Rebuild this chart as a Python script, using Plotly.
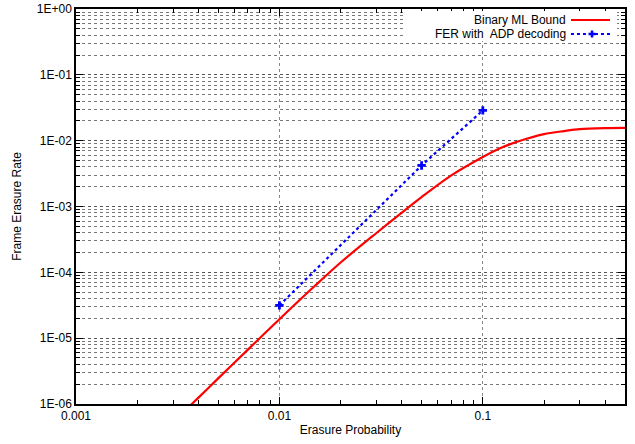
import plotly.graph_objects as go

# Binary ML bound
ml_p = [0.003, 0.004, 0.005, 0.007, 0.01, 0.015, 0.02, 0.03, 0.04, 0.05, 0.07,
        0.1, 0.12, 0.15, 0.2, 0.25, 0.3, 0.4, 0.5]
ml_fer = [5.3e-7, 1.25e-6, 2.45e-6, 6.7e-6, 1.94e-5, 6.3e-5, 1.41e-4, 3.96e-4,
          8.1e-4, 1.39e-3, 2.97e-3, 5.65e-3, 7.55e-3, 9.8e-3, 1.26e-2, 1.40e-2,
          1.50e-2, 1.55e-2, 1.56e-2]

# FER with ADP decoding
adp_p = [0.01, 0.05, 0.1]
adp_fer = [3.15e-5, 4.2e-3, 2.88e-2]

x_ticks = [0.001, 0.01, 0.1]
x_ticktext = ["0.001", "0.01", "0.1"]
y_exps = [0, -1, -2, -3, -4, -5, -6]
y_ticktext = ["1E+00", "1E-01", "1E-02", "1E-03", "1E-04", "1E-05", "1E-06"]

y_ticks = [10.0 ** e for e in y_exps]
x_minor = [k * 10.0 ** e for e in (-3, -2, -1) for k in range(2, 10)]
y_minor = [k * 10.0 ** e for e in range(-6, 0) for k in range(2, 10)]

FONT = "Liberation Sans, Arial, Helvetica, sans-serif"

fig = go.Figure()
fig.add_trace(go.Scatter(x=ml_p, y=ml_fer, mode="lines", name="Binary ML Bound",
                         line=dict(color="#ff0000", width=2.2, shape="spline",
                                   smoothing=0.8),
                         showlegend=False))
fig.add_trace(go.Scatter(x=adp_p, y=adp_fer, mode="lines+markers",
                         name="FER with  ADP decoding",
                         line=dict(color="#0000ff", width=2.2, dash="dot"),
                         marker=dict(symbol="cross", size=7, color="#0000ff"),
                         showlegend=False))

fig.update_layout(
    width=635, height=444,
    margin=dict(l=76, r=10, t=9, b=40),
    paper_bgcolor="white", plot_bgcolor="white",
    font=dict(family=FONT, size=12, color="black"),
    xaxis=dict(type="log", range=[-3, -0.30103], automargin=False,
               tickvals=x_ticks, ticktext=x_ticktext,
               ticks="inside", ticklen=7, tickcolor="black",
               showgrid=True, gridcolor="#888888", griddash="dot", gridwidth=1,
               showline=True, linecolor="black", linewidth=1.5, mirror="allticks",
               zeroline=False,
               minor=dict(tickvals=x_minor, ticks="inside", ticklen=4,
                          tickcolor="black", showgrid=False),
               title=dict(text="Erasure Probability", standoff=3, font=dict(size=12))),
    yaxis=dict(type="log", range=[-6, 0], automargin=False,
               tickvals=y_ticks, ticktext=y_ticktext,
               ticks="inside", ticklen=7, tickcolor="black",
               showgrid=True, gridcolor="#555555", griddash="dot", gridwidth=1,
               showline=True, linecolor="black", linewidth=1.5, mirror="allticks",
               zeroline=False,
               minor=dict(tickvals=y_minor, ticks="inside", ticklen=4,
                          tickcolor="black", showgrid=True, gridcolor="#777777",
                          griddash="dot", gridwidth=1),
               title=dict(text="Frame Erasure Rate", standoff=13, font=dict(size=12))),
)

# Legend box (gnuplot style: text right, sample to the right)
y_row1 = 0.9722
y_row2 = 0.9367
fig.add_shape(type="rect", xref="paper", yref="paper",
              x0=0.5956, x1=0.9854, y0=0.9190, y1=0.9949,
              fillcolor="white", line=dict(width=0), layer="above")
fig.add_annotation(xref="paper", yref="paper", x=0.8944, y=y_row1,
                   text="Binary ML Bound", showarrow=False, xanchor="right",
                   yanchor="middle", borderpad=0, font=dict(size=12))
fig.add_annotation(xref="paper", yref="paper", x=0.8944, y=y_row2,
                   text="FER with  ADP decoding", showarrow=False, xanchor="right",
                   yanchor="middle", borderpad=0, font=dict(size=12))
fig.add_shape(type="line", xref="paper", yref="paper",
              x0=0.9016, x1=0.9727, y0=y_row1, y1=y_row1,
              line=dict(color="#ff0000", width=2.2), layer="above")
fig.add_shape(type="line", xref="paper", yref="paper",
              x0=0.9016, x1=0.9727, y0=y_row2, y1=y_row2,
              line=dict(color="#0000ff", width=2.2, dash="dot"), layer="above")
# cross marker sample
cx, cy = 0.9399, y_row2
dx, dy = 3.5 / 549, 3.5 / 395
fig.add_shape(type="line", xref="paper", yref="paper",
              x0=cx - dx, x1=cx + dx, y0=cy, y1=cy,
              line=dict(color="#0000ff", width=2.5), layer="above")
fig.add_shape(type="line", xref="paper", yref="paper",
              x0=cx, x1=cx, y0=cy - dy, y1=cy + dy,
              line=dict(color="#0000ff", width=2.5), layer="above")

fig.write_html("out.html",
               config={"displayModeBar": False},
               post_script="document.body.style.margin='0';"
                           "document.body.style.overflow='hidden';")
